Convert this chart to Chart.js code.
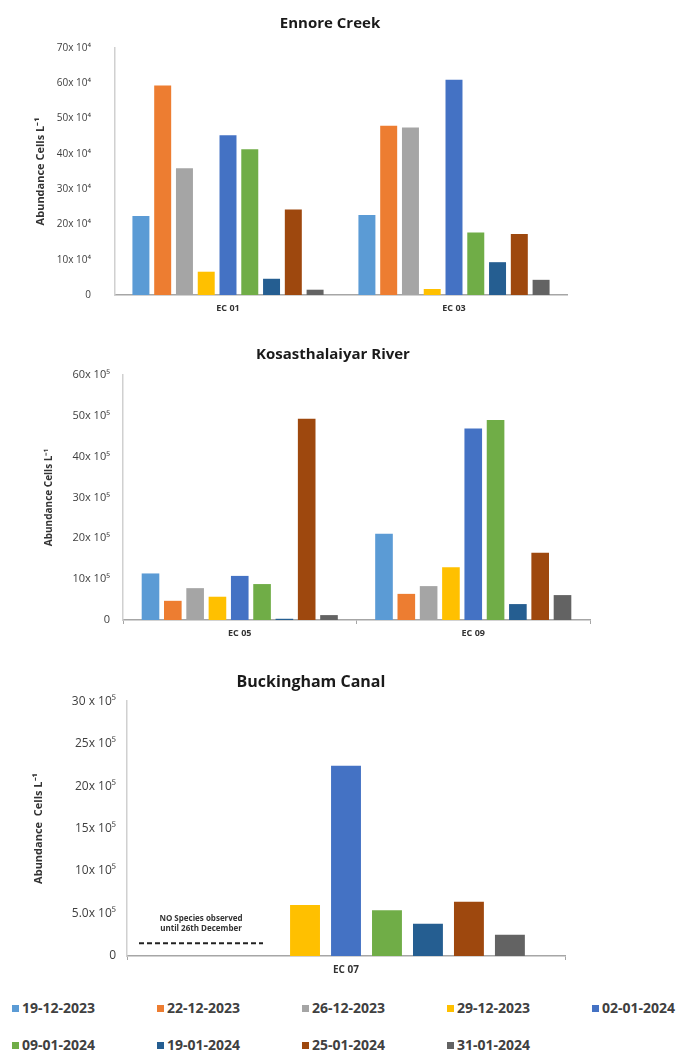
<!DOCTYPE html>
<html>
<head>
<meta charset="utf-8">
<script src="https://cdn.jsdelivr.net/npm/chart.js@4.4.1/dist/chart.umd.min.js"></script>
<style>
body{margin:0;background:#fff;width:683px;height:1052px;position:relative;overflow:hidden;font-family:"Open Sans",sans-serif;}
canvas{position:absolute;left:0;}
#legend{position:absolute;left:12px;top:998px;display:grid;grid-template-columns:repeat(5,145px);row-gap:17px;}
.item{height:20px;line-height:20px;font-size:14px;font-weight:bold;color:#404040;white-space:nowrap;}
.item span{display:inline-block;width:7px;height:7px;margin-right:3px;vertical-align:1px;}
</style>
</head>
<body>
<canvas id="c1" width="660" height="325" style="top:0px"></canvas>
<canvas id="c2" width="666" height="310" style="top:330px"></canvas>
<canvas id="c3" width="622" height="320" style="top:660px"></canvas>
<div id="legend"></div>
<script>
var dates=['19-12-2023','22-12-2023','26-12-2023','29-12-2023','02-01-2024','09-01-2024','19-01-2024','25-01-2024','31-01-2024'];
var colors=['#5B9BD5','#ED7D31','#A5A5A5','#FFC000','#4472C4','#70AD47','#255E91','#9E480E','#636363'];

// Ennore Creek (x 10^4 cells/L)
var ennoreSites=['EC 01','EC 03'];
var ec01=[22.4,59.4,35.9,6.6,45.3,41.3,4.6,24.2,1.5];
var ec03=[22.7,48.0,47.5,1.7,61.0,17.7,9.3,17.3,4.3];
var ennoreTicks=['0','10x 10⁴','20x 10⁴','30x 10⁴','40x 10⁴','50x 10⁴','60x 10⁴','70x 10⁴'];

// Kosasthalaiyar River (x 10^5 cells/L)
var kosSites=['EC 05','EC 09'];
var ec05=[11.4,4.7,7.8,5.7,10.8,8.8,0.3,49.3,1.2];
var ec09=[21.1,6.4,8.3,12.9,46.9,49.0,3.9,16.5,6.1];
var kosTicks=['0','10x 10⁵','20x 10⁵','30x 10⁵','40x 10⁵','50x 10⁵','60x 10⁵'];

// Buckingham Canal (x 10^5 cells/L), nothing found before 29-12
var bcSites=['EC 07'];
var ec07=[null,null,null,6.0,22.4,5.4,3.8,6.4,2.5];
var bcTicks=['0','5.0x 10⁵','10x 10⁵','15x 10⁵','20x 10⁵','25x 10⁵','30 x 10⁵'];
var noteLines=['NO Species observed','until 26th December'];

Chart.defaults.font.family='"Open Sans", sans-serif';
Chart.defaults.animation=false;

function makeSets(rows){
    return dates.map(function(d,i){
        return {
            label:d,
            data:rows.map(function(r){return r[i];}),
            backgroundColor:colors[i],
            borderWidth:0
        };
    });
}

function makeChart(id,cfg){
    var tickList=cfg.ticks;
    var step=cfg.step;
    return new Chart(document.getElementById(id),{
        type:'bar',
        data:{labels:cfg.sites,datasets:makeSets(cfg.rows)},
        plugins:cfg.plugins||[],
        options:{
            responsive:false,
            layout:{padding:0},
            datasets:{bar:{categoryPercentage:cfg.catPct,barPercentage:cfg.barPct}},
            plugins:{
                legend:{display:false},
                tooltip:{enabled:false},
                title:{
                    display:true,
                    text:cfg.title,
                    color:'#1a1a1a',
                    font:{size:cfg.titleSize,weight:'bold'},
                    padding:cfg.titlePad
                }
            },
            scales:{
                x:{
                    grid:{display:cfg.xTicks,drawOnChartArea:false,drawTicks:cfg.xTicks,tickLength:4,color:'#a6a6a6',offset:true},
                    border:{display:true,color:'#a6a6a6',width:1.5},
                    ticks:{color:'#333',font:{size:cfg.xFont,weight:'bold'},padding:cfg.xPad},
                    afterFit:function(s){s.height=cfg.xHeight;}
                },
                y:{
                    min:0,
                    max:cfg.max,
                    grid:{display:false,drawTicks:false},
                    border:{display:true,color:'#d0d0d0',width:1.5},
                    ticks:{
                        stepSize:step,
                        color:'#404040',
                        font:{size:cfg.yFont},
                        padding:cfg.yPad,
                        callback:function(v){return tickList[Math.round(v/step)];}
                    },
                    title:{
                        display:true,
                        text:cfg.yTitle,
                        color:'#333',
                        font:{size:cfg.yTitleSize,weight:'bold'},
                        padding:{top:cfg.yTitlePad,bottom:0}
                    },
                    afterFit:function(s){s.width=cfg.left;}
                },
                yR:{
                    type:'linear',
                    position:'right',
                    display:true,
                    grid:{display:false,drawTicks:false},
                    border:{display:false},
                    ticks:{display:false},
                    afterFit:function(s){s.width=cfg.right;}
                }
            }
        }
    });
}

var noSpecies={
    id:'noSpecies',
    afterDatasetsDraw:function(chart){
        var ctx=chart.ctx;
        var area=chart.chartArea;
        var y=chart.scales.y;
        var x0=area.left+12, x1=area.left+136;
        var yl=y.getPixelForValue(1.5);
        ctx.save();
        ctx.strokeStyle='#222';
        ctx.lineWidth=2;
        ctx.setLineDash([5,3]);
        ctx.beginPath();
        ctx.moveTo(x0,yl);
        ctx.lineTo(x1,yl);
        ctx.stroke();
        ctx.fillStyle='#333';
        ctx.font='bold 8px "Open Sans", sans-serif';
        ctx.textAlign='center';
        ctx.textBaseline='middle';
        ctx.fillText(noteLines[0],(x0+x1)/2,yl-25);
        ctx.fillText(noteLines[1],(x0+x1)/2,yl-15);
        ctx.restore();
    }
};

makeChart('c1',{
    title:'Ennore Creek',titleSize:15,titlePad:{top:15,bottom:15},
    sites:ennoreSites,rows:[ec01,ec03],
    max:70,step:10,ticks:ennoreTicks,
    catPct:0.867,barPct:0.78,
    xTicks:false,xFont:9,xPad:8,xHeight:21,
    yFont:10,yPad:24,left:115,right:93,
    yTitle:'Abundance Cells L⁻¹',yTitleSize:11,yTitlePad:34
});

makeChart('c2',{
    title:'Kosasthalaiyar River',titleSize:15,titlePad:{top:16,bottom:11},
    sites:kosSites,rows:[ec05,ec09],
    max:60,step:10,ticks:kosTicks,
    catPct:0.86,barPct:0.79,
    xTicks:true,xFont:9,xPad:4,xHeight:20,
    yFont:11,yPad:13,left:123,right:76,
    yTitle:'Abundance Cells L⁻¹',yTitleSize:10,yTitlePad:43
});

makeChart('c3',{
    title:'Buckingham Canal',titleSize:16,titlePad:{top:13,bottom:9},
    sites:bcSites,rows:[ec07],
    max:30,step:5,ticks:bcTicks,
    catPct:0.842,barPct:0.73,
    xTicks:true,xFont:10,xPad:4,xHeight:24,
    yFont:12,yPad:11,left:127,right:57,
    yTitle:'Abundance  Cells L⁻¹',yTitleSize:11,yTitlePad:32,
    plugins:[noSpecies]
});

// legend grid under the three charts
var legend=document.getElementById('legend');
dates.forEach(function(d,i){
    var el=document.createElement('div');
    el.className='item';
    el.innerHTML='<span style="background:'+colors[i]+'"></span>'+d;
    legend.appendChild(el);
});
</script>
</body>
</html>
